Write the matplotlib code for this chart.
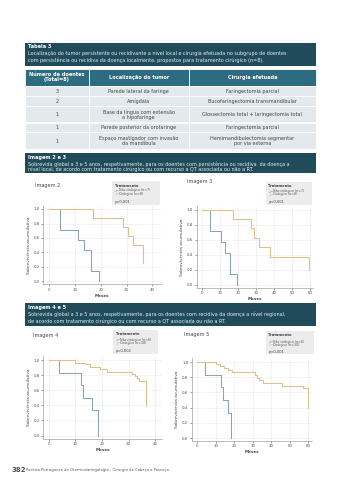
import matplotlib
matplotlib.use("Agg")
import matplotlib.pyplot as plt
from matplotlib.patches import Rectangle
from matplotlib.lines import Line2D

W, H = 342, 480
plt.rcParams['font.family'] = ['DejaVu Sans']

# ---- table data ----
tab_title = "Tabela 3"
tab_caption = ["Localização do tumor persistente ou recidivante a nível local e cirurgia efetuada no subgrupo de doentes",
               "com persistência ou recidiva da doença localmente, propostos para tratamento cirúrgico (n=8)."]
tab_header = ["Número de doentes\n(Total=8)", "Localização do tumor", "Cirurgia efetuada"]
n_doentes = ["3", "2", "1", "1", "1"]
localizacao = ["Parede lateral da faringe", "Amígdala", "Base da língua com extensão\na hipofaringe",
               "Parede posterior da orofaringe", "Espaço mastigador com invasão\nda mandíbula"]
cirurgia = ["Faringectomia parcial", "Bucofaringectomia transmandibular",
            "Glossectomia total + laringectomia total", "Faringectomia parcial",
            "Hemimandibulectomia segmentar\npor via externa"]

box23_title = "Imagem 2 e 3"
box23_text = ["Sobrevida global a 3 e 5 anos, respetivamente, para os doentes com persistência ou recidiva  da doença a",
              "nível local, de acordo com tratamento cirúrgico ou com recurso a QT associada ou não a RT."]
box45_title = "Imagem 4 e 5"
box45_text = ["Sobrevida global a 3 e 5 anos, respetivamente, para os doentes com recidiva da doença a nível regional,",
              "de acordo com tratamento cirúrgico ou com recurso a QT associada ou não a RT."]

# ---- Kaplan-Meier curves (months, cumulative survival) ----
img2_nc_t = [0, 4, 11.3, 13.3, 16.3, 19.3]
img2_nc_s = [1, 0.714, 0.571, 0.429, 0.143, 0.0]
img2_c_t = [0, 17, 28.5, 30.6, 32.5, 36.5]
img2_c_s = [1, 0.875, 0.75, 0.625, 0.5, 0.25]

img3_nc_t = [0, 4.3, 10.6, 12.8, 15.7, 19.3]
img3_nc_s = [1, 0.714, 0.571, 0.429, 0.143, 0.0]
img3_c_t = [0, 17, 27.2, 29, 31.8, 38, 59.3]
img3_c_s = [1, 0.875, 0.75, 0.625, 0.5, 0.375, 0.19]

img4_nc_t = [0, 4, 12.1, 13, 16.2, 18.4]
img4_nc_s = [1, 0.833, 0.667, 0.5, 0.333, 0.0]
img4_c_t = [0, 9.9, 13.6, 15.5, 19.3, 21.8, 31.2, 32.4, 33.3, 34.1, 36.5]
img4_c_s = [1, 0.964, 0.942, 0.911, 0.876, 0.845, 0.815, 0.785, 0.755, 0.725, 0.39]

img5_nc_t = [0, 4.3, 12.8, 13.8, 16.8, 18.2]
img5_nc_s = [1, 0.833, 0.667, 0.5, 0.333, 0.0]
img5_c_t = [0, 10, 12.5, 14.5, 16.5, 19, 31, 32.3, 33.5, 35.3, 46, 57, 59.7]
img5_c_s = [1, 0.97, 0.95, 0.92, 0.89, 0.865, 0.83, 0.79, 0.76, 0.72, 0.69, 0.66, 0.40]

legend_labels = {
    "2": ["Não cirúrgico (n=7)", "Cirúrgico (n=8)", "p=0,001"],
    "3": ["Não cirúrgico (n=7)", "Cirúrgico (n=8)", "p<0,001"],
    "4": ["Não cirúrgico (n=6)", "Cirúrgico (n=18)", "p=0,002"],
    "5": ["Não cirúrgico (n=6)", "Cirúrgico (n=30)", "p<0,001"],
}

footer_page = "382"
footer_text = "Revista Portuguesa de Otorrinolaringologia - Cirurgia de Cabeça e Pescoço"

DARK = "#1f4b5a"
HEAD = "#2d6c80"
ROW = "#e3e9ec"
BLUE = "#86a4b1"
TAN = "#dfc08a"

fig = plt.figure(figsize=(W / 100, H / 100), dpi=100)


def fx(x):
    return x / W


def fy(y):
    return 1 - y / H


def rect(x0, y0, x1, y1, color, ec="none", lw=0):
    fig.add_artist(Rectangle((fx(x0), fy(y1)), (x1 - x0) / W, (y1 - y0) / H,
                             transform=fig.transFigure, facecolor=color,
                             edgecolor=ec, linewidth=lw))


def txt(x, y, s, size, **kw):
    kw.setdefault("va", "center")
    fig.text(fx(x), fy(y), s, fontsize=size, **kw)


# caption box of the table
rect(25, 42.5, 316, 66, DARK)
txt(28.5, 46.8, tab_title, 3.6, color="#ffffff", fontweight="bold")
txt(28.5, 53.2, tab_caption[0], 3.5, color="#e6eef1")
txt(28.5, 60.2, tab_caption[1], 3.5, color="#e6eef1")

# table
col_edges = [25, 89, 188.5, 316]
row_edges = [85.5, 96, 106.5, 122.5, 132.5, 149]
for i in range(3):
    rect(col_edges[i], 69, col_edges[i + 1], 85.5, HEAD, ec="white", lw=0.6)
    txt((col_edges[i] + col_edges[i + 1]) / 2, 77.3, tab_header[i], 3.6,
        color="white", fontweight="bold", ha="center", linespacing=1.0)
for r in range(len(n_doentes)):
    cells = [n_doentes[r], localizacao[r], cirurgia[r]]
    y0, y1 = row_edges[r], row_edges[r + 1]
    for i in range(3):
        rect(col_edges[i], y0, col_edges[i + 1], y1, ROW, ec="white", lw=0.6)
        txt((col_edges[i] + col_edges[i + 1]) / 2, (y0 + y1) / 2 + 0.3, cells[i], 3.5,
            color="#444444", ha="center", linespacing=1.15)

# caption boxes for the figures
rect(25, 153.3, 316, 173, DARK)
txt(28.5, 158, box23_title, 3.6, color="white", fontweight="bold")
txt(28.5, 164, box23_text[0], 3.5, color="#e6eef1")
txt(28.5, 169.5, box23_text[1], 3.5, color="#e6eef1")

rect(25, 302.5, 316, 325.5, DARK)
txt(28.5, 308, box45_title, 3.6, color="white", fontweight="bold")
txt(28.5, 314.5, box45_text[0], 3.5, color="#e6eef1")
txt(28.5, 320.8, box45_text[1], 3.5, color="#e6eef1")


def km_panel(x0px, ppx, xlim, y1px, ppy, ylim, xticks, curves):
    left = x0px + xlim[0] * ppx
    right = x0px + xlim[1] * ppx
    top = y1px - (ylim[1] - 1) * ppy
    bottom = y1px + (1 - ylim[0]) * ppy
    ax = fig.add_axes([fx(left), fy(bottom), (right - left) / W, (bottom - top) / H])
    for t, s, c in curves:
        ax.step(t, s, where="post", color=c, linewidth=0.75)
    ax.set_xlim(*xlim)
    ax.set_ylim(*ylim)
    ax.set_xticks(xticks)
    ax.set_yticks([0, 0.2, 0.4, 0.6, 0.8, 1.0])
    ax.set_yticklabels(["0,0", "0,2", "0,4", "0,6", "0,8", "1,0"])
    ax.grid(True, linestyle=(0, (1, 1.5)), color="#cfcfcf", linewidth=0.4)
    ax.set_axisbelow(True)
    for side in ["top", "right"]:
        ax.spines[side].set_visible(False)
    for side in ["left", "bottom"]:
        ax.spines[side].set_color("#8a8a8a")
        ax.spines[side].set_linewidth(0.4)
    ax.tick_params(labelsize=2.9, length=1.2, width=0.4, pad=1.2, colors="#555555")
    ax.set_xlabel("Meses", fontsize=3.0, fontweight="bold", labelpad=1.5, color="#444444")
    ax.set_ylabel("Sobrevivência acumulativa", fontsize=3.1, labelpad=2, color="#444444")
    ax.patch.set_alpha(0)
    return ax


def legend_box(x0, y0, x1, y1, key, dy):
    rect(x0, y0, x1, y1, "#ececec")
    labs = legend_labels[key]
    tx = x0 + 2.5
    txt(tx, y0 + dy[0], "Tratamento", 2.6, fontweight="bold", color="#444444")
    for k, col in enumerate([BLUE, TAN]):
        yy = y0 + dy[1 + k]
        fig.add_artist(Line2D([fx(tx), fx(tx + 1.5), fx(tx + 1.5), fx(tx + 3.5)],
                              [fy(yy + 0.6), fy(yy + 0.6), fy(yy - 0.6), fy(yy - 0.6)],
                              transform=fig.transFigure, color=col, linewidth=0.4))
        txt(tx + 4.2, yy, labs[k], 2.3, color="#555555")
    txt(tx, y0 + dy[3], labs[2], 2.6, color="#444444")


# Imagem 2
txt(35, 185.5, "Imagem 2", 3.6, color="#444444")
legend_box(112, 181.3, 159.5, 205.3, "2", [4.3, 9.2, 12.2, 20.5])
km_panel(49.3, 2.575, (-2.5, 43.5), 209, 72.5, (-0.04, 1.05), [0, 10, 20, 30, 40],
         [(img2_nc_t, img2_nc_s, BLUE), (img2_c_t, img2_c_s, TAN)])

# Imagem 3
txt(187, 182, "Imagem 3", 3.6, color="#444444")
legend_box(266, 182, 311.7, 205.3, "3", [4.3, 9.2, 12.2, 20.0])
km_panel(202, 1.8, (-3, 61.5), 209.7, 75, (-0.04, 1.05), [0, 10, 20, 30, 40, 50, 60],
         [(img3_nc_t, img3_nc_s, BLUE), (img3_c_t, img3_c_s, TAN)])

# Imagem 4
txt(33.3, 335, "Imagem 4", 3.6, color="#444444")
legend_box(113.3, 330, 158.3, 354.3, "4", [4.3, 9.8, 13.0, 20.7])
km_panel(48.7, 2.66, (-2, 42.5), 360, 75.5, (-0.04, 1.05), [0, 10, 20, 30, 40],
         [(img4_nc_t, img4_nc_s, BLUE), (img4_c_t, img4_c_s, TAN)])

# Imagem 5
txt(184.3, 334.5, "Imagem 5", 3.6, color="#444444")
legend_box(266, 331, 313.7, 354.3, "5", [4.3, 10.5, 13.8, 21.3])
km_panel(197.3, 1.85, (-3, 62), 362, 76, (-0.04, 1.05), [0, 10, 20, 30, 40, 50, 60],
         [(img5_nc_t, img5_nc_s, BLUE), (img5_c_t, img5_c_s, TAN)])

# footer
txt(12, 470.5, footer_page, 5.0, color="#555555", fontweight="bold")
txt(26, 470.5, footer_text, 2.7, color="#555555")

fig.savefig("out.png", dpi=100, facecolor="white")
